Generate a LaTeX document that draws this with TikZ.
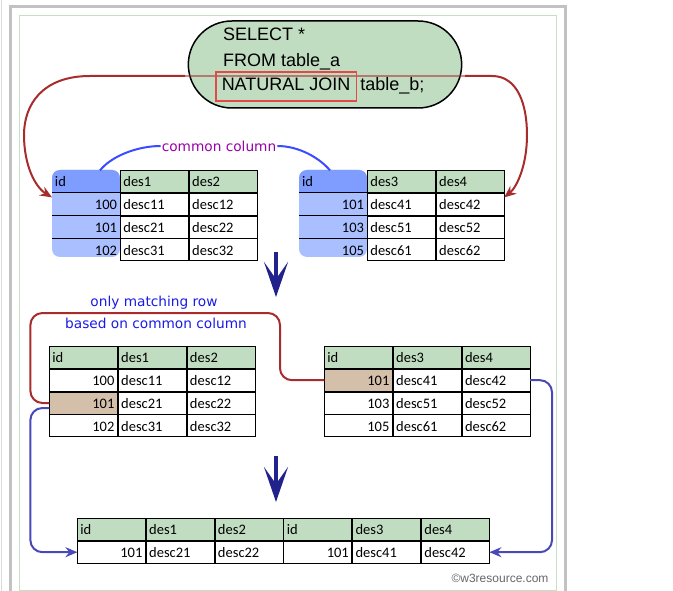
\documentclass[tikz,border=0pt]{standalone}
\usepackage{fontspec}
\usetikzlibrary{positioning,matrix,arrows.meta,shapes.misc}
\newfontfamily\sqlfont{Liberation Sans}
\newfontfamily\tabfont{Carlito}
\newfontfamily\notefont{DejaVu Sans}

\definecolor{hdr}{HTML}{C1DDC1}
\definecolor{framegreen}{HTML}{C6E0C6}
\definecolor{idhead}{HTML}{7F9CFF}
\definecolor{idbody}{HTML}{AABFFF}
\definecolor{match}{HTML}{D4BFAA}
\definecolor{joinred}{HTML}{E44848}
\definecolor{darkred}{HTML}{A82C2C}
\definecolor{ccblue}{HTML}{3B4BFF}
\definecolor{linkblue}{HTML}{4848B8}
\definecolor{notepurple}{HTML}{9900AA}
\definecolor{noteblue}{HTML}{1A1AE6}
\definecolor{navy}{HTML}{22228C}

\tikzset{
  cell/.style={draw, line width=0.8pt, outer sep=0pt, inner xsep=3pt, inner ysep=0pt,
    text width=62pt, minimum height=22pt, text height=13pt, text depth=2pt, align=left,
    font=\tabfont\fontsize{14.5}{16}\selectfont},
  tbl/.style={matrix of nodes, anchor=north west, inner sep=0pt, outer sep=0pt,
    nodes={cell}, row 1/.style={nodes={fill=hdr}}, column 1/.style={nodes={align=right}}},
  idh/.style={align=left},
  idtop/.style={align=left, fill=none},
  hit/.style={fill=match},
  pill/.style={rounded rectangle, draw, line width=1.5pt, fill=hdr,
    minimum width=280pt, minimum height=87pt},
  sql/.style={inner sep=0pt, font=\sqlfont\fontsize{18}{21}\selectfont},
  joinbox/.style={draw=joinred, line width=1.5pt, inner xsep=6pt, inner ysep=6pt,
    text height=13pt, text depth=4pt},
  redline/.style={draw=darkred, line width=2pt},
  ccline/.style={draw=ccblue, line width=2pt},
  linkline/.style={draw=linkblue, line width=2pt, rounded corners=12pt},
  linktip/.style={-{Stealth[length=12pt, width=10pt, inset=4pt]}},
  bigdown/.style={draw=navy, line width=4pt, -{Stealth[length=35pt, width=24pt, inset=17pt]}},
  note/.style={inner sep=1pt, font=\notefont\fontsize{13.7}{16}\selectfont},
}

\begin{document}
\begin{tikzpicture}[x=1pt, y=-1pt]
    \useasboundingbox (0,0) rectangle (673,591);
    % frame
    \draw[black!15, line width=1pt] (1,0) -- (1,591);
    \draw[black!24, line width=3pt] (10.5,591) -- (10.5,6.5) -- (565.5,6.5) -- (565.5,591);
    \draw[framegreen, line width=1pt] (19.5,15.5) rectangle (556.5,590);

    % query
    \node[pill] (query) at (325,64.5) {};
    \coordinate (jl) at (185,76);
    \coordinate (jr) at (465,76);
    \draw[redline, opacity=.55] (jl) -- (jr);
    \node[sql, anchor=base west] (sel) at (223,41) {SELECT *};
    \node[sql, anchor=base west] (frm) at (223,67) {FROM table\_a};
    \node[sql, joinbox, anchor=base west] (nj) at (215,91) {NATURAL JOIN};
    \node[sql, base right=3pt of nj] (tblb) {table\_b;};

    % top tables
    \foreach \x in {52,299} {
        \fill[idbody, rounded corners=8pt] (\x,170) rectangle ++(68,87);
        \begin{scope}
            \clip (\x,170) rectangle ++(68,22);
            \fill[idhead, rounded corners=8pt] (\x,170) rectangle ++(68,87);
        \end{scope}
    }
    \matrix[tbl, column 1/.style={nodes={align=right, draw=none}}] (ta) at (52,170) {
        |[idtop]| id & des1 & des2 \\
        100 & desc11 & desc12 \\
        101 & desc21 & desc22 \\
        102 & desc31 & desc32 \\
    };
    \matrix[tbl, column 1/.style={nodes={align=right, draw=none}}] (tb) at (299,170) {
        |[idtop]| id & des3 & des4 \\
        101 & desc41 & desc42 \\
        103 & desc51 & desc52 \\
        105 & desc61 & desc62 \\
    };
    \foreach \t in {ta,tb}
        \foreach \r in {1,2,3}
            \draw[line width=0.8pt] (\t-\r-1.south west) -- (\t-\r-1.south east);

    \draw[redline, linktip] (jl) -- (90,76) .. controls (42,76) and (24,105) .. (24,135)
        .. controls (24,165) and (35,187) .. ([yshift=-5pt]ta-1-1.south west);
    \draw[redline, linktip] (jr) -- (492,76) .. controls (518,76) and (527,105) .. (527,135)
        .. controls (527,165) and (517,187) .. ([yshift=-5pt]tb-1-3.south east);

    \node[note, text=notepurple] (cc) at (219,146) {common column};
    \draw[ccline] ([xshift=-20pt]ta-1-1.north east) .. controls +(12,-15) and +(-22,0) .. (cc.west);
    \draw[ccline] (cc.east) .. controls +(22,0) and +(-10,-12) .. ([xshift=31pt]tb-1-1.north west);

    \coordinate (d1a) at (276,252);
    \coordinate (d1b) at (276,297);
    \draw[bigdown] (d1a) -- (d1b);

    % matching rows
    \node[note, text=noteblue] (only) at (154,303) {only matching row};
    \node[note, text=noteblue] (based) at (156,323) {based on common column};
    \matrix[tbl] (ma) at (49,346) {
        |[idh]| id & des1 & des2 \\
        100 & desc11 & desc12 \\
        |[hit]| 101 & desc21 & desc22 \\
        102 & desc31 & desc32 \\
    };
    \matrix[tbl] (mb) at (324,346) {
        |[idh]| id & des3 & des4 \\
        |[hit]| 101 & desc41 & desc42 \\
        103 & desc51 & desc52 \\
        105 & desc61 & desc62 \\
    };
    \draw[redline, rounded corners=12pt] (ma-3-1.west) -- ++(-19,0) |- (280,313) |- (mb-2-1.west);

    \coordinate (d2a) at (276,456);
    \coordinate (d2b) at (276,502);
    \draw[bigdown] (d2a) -- (d2b);

    % result
    \matrix[tbl, column 4/.style={nodes={align=right}}] (mc) at (77,518) {
        |[idh]| id & des1 & des2 & |[idh]| id & des3 & des4 \\
        101 & desc21 & desc22 & 101 & desc41 & desc42 \\
    };
    \draw[linkline, linktip] ([yshift=-5pt]ma-3-1.west) -- ++(-19,0) |- (mc-2-1.west);
    \draw[linkline, linktip] (mb-2-3.east) -- ++(22,0) |- (mc-2-6.east);

    \node[font=\sqlfont\fontsize{12}{14}\selectfont, text=black!60] (copy) at (500,578) {©w3resource.com};
\end{tikzpicture}
\end{document}
